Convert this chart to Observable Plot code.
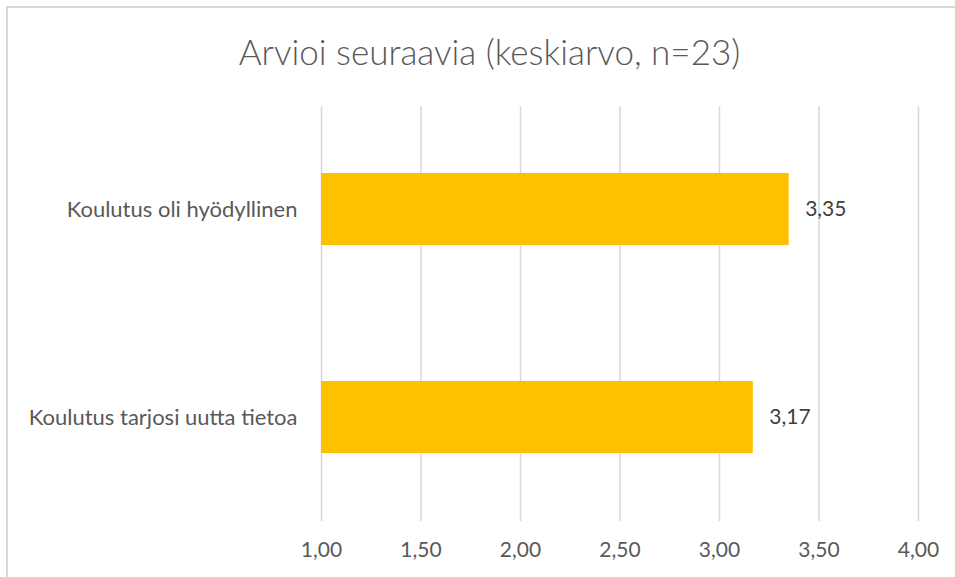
<!DOCTYPE html>
<html>
<head>
<meta charset="utf-8">
<script src="https://cdn.jsdelivr.net/npm/d3@7"></script>
<script src="https://cdn.jsdelivr.net/npm/@observablehq/plot@0.6"></script>
<style>
  html, body { margin: 0; padding: 0; background: #fff; }
  #wrap { position: relative; width: 955px; height: 577px; overflow: hidden; font-family: Lato, "Open Sans", sans-serif; }
  #frame { position: absolute; left: 6px; top: 6px; width: 990px; height: 600px; border-left: 2px solid #d9d9d9; border-top: 2px solid #d9d9d9; }
  #title { position: absolute; left: 0; top: 0; width: 979px; height: 100px; text-align: center; font-size: 35px; font-weight: 300; color: #595959; line-height: 35px; }
  #title span { position: relative; top: 34px; }
  #chart { position: absolute; left: 0; top: 100px; }
</style>
</head>
<body>
<div id="wrap">
  <div id="frame"></div>
  <div id="title"><span>Arvioi seuraavia (keskiarvo, n=23)</span></div>
  <div id="chart"></div>
</div>
<script>
const categories = ["Koulutus oli hyödyllinen", "Koulutus tarjosi uutta tietoa"];
const values = [3.35, 3.17];
const xTicks = [1.0, 1.5, 2.0, 2.5, 3.0, 3.5, 4.0];

const fi = d3.formatLocale({decimal: ",", thousands: "\u00a0", grouping: [3], currency: ["", " €"]});
const fmt = fi.format(".2f");

const data = categories.map((c, i) => ({category: c, value: values[i]}));

const chart = Plot.plot({
  width: 955,
  height: 477,
  marginLeft: 321,
  marginRight: 37,
  marginTop: 6,
  marginBottom: 56,
  style: {fontFamily: "Lato, 'Open Sans', sans-serif", fontSize: "22px", color: "#595959", background: "transparent"},
  x: {domain: [1, 4], ticks: xTicks, tickFormat: fmt, tickSize: 0, tickPadding: 21, label: null},
  y: {domain: categories, paddingInner: 0.652, paddingOuter: 0.321, tickSize: 0, tickPadding: 24, label: null},
  marks: [
    Plot.ruleX(xTicks, {stroke: "#d9d9d9", strokeWidth: 1.5}),
    Plot.barX(data, {x1: 1, x2: "value", y: "category", fill: "#FFC000"}),
    Plot.text(data, {x: "value", y: "category", text: d => fmt(d.value), textAnchor: "start", dx: 16, fill: "#404040", fontSize: 21}),
    Plot.axisX({ticks: xTicks, tickFormat: fmt, tickSize: 0, tickPadding: 21, fontSize: 21, label: null}),
    Plot.axisY({tickSize: 0, tickPadding: 24, fontSize: 22, label: null})
  ]
});
document.getElementById("chart").appendChild(chart);
</script>
</body>
</html>
